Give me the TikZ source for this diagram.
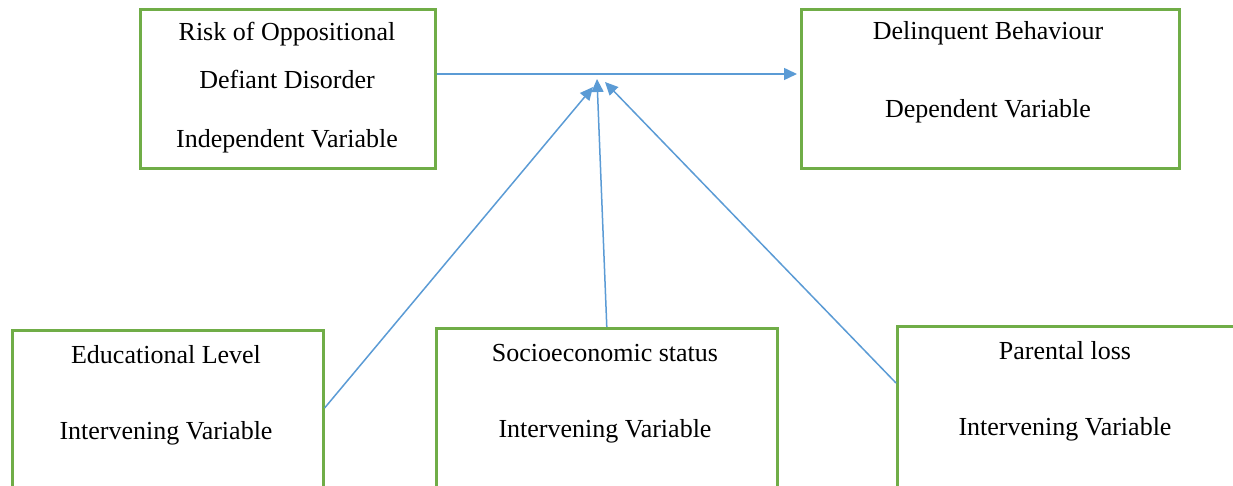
\documentclass[tikz,border=0pt]{standalone}
\usepackage{fontspec}
\setmainfont{Liberation Serif}
\usetikzlibrary{arrows.meta,calc}
\definecolor{boxgreen}{RGB}{112,173,71}
\definecolor{arrblue}{RGB}{91,155,213}
\tikzset{
  box/.style={draw=boxgreen, line width=1.3pt, rectangle, anchor=north west, inner sep=0pt},
  lbl/.style={inner sep=0pt, font=\fontsize{13}{15}\selectfont},
  arr/.style={draw=arrblue, line width=0.75pt, -{Triangle[length=6.5pt,width=6pt]}},
}
\begin{document}
\begin{tikzpicture}[x=0.5pt,y=-0.5pt]
\useasboundingbox (0,0) rectangle (1233,486);
\clip (0,0) rectangle (1233,486);
% boxes
\node[box, minimum width=147.5pt, minimum height=79.5pt] (A) at (139,8) {};
\node[box, minimum width=189pt, minimum height=79.5pt] (B) at (800,8) {};
\node[box, minimum width=155.5pt, minimum height=90pt] (C) at (11,329) {};
\node[box, minimum width=170.5pt, minimum height=90pt] (D) at (435,327) {};
\node[box, minimum width=175pt, minimum height=90pt] (E) at (896,325) {};
% texts
\node[lbl] (a1) at (287,34) {Risk of Oppositional};
\node[lbl] (a2) at (287,79) {Defiant Disorder};
\node[lbl] (a3) at (287,141) {Independent Variable};
\node[lbl] (b1) at (988,33) {Delinquent Behaviour};
\node[lbl] (b2) at (988,111) {Dependent Variable};
\node[lbl] (c1) at (166,355) {Educational Level};
\node[lbl] (c2) at (166,433) {Intervening Variable};
\node[lbl] (d1) at (605,353) {Socioeconomic status};
\node[lbl] (d2) at (605,431) {Intervening Variable};
\node[lbl] (e1) at (1065,351) {Parental loss};
\node[lbl] (e2) at (1065,429) {Intervening Variable};
% arrow targets
\coordinate (hB) at (797,74);
\coordinate (tC) at (593,87);
\coordinate (tD) at (597,79);
\coordinate (tE) at (605,82);
% connectors
\draw[arr] (A.east |- hB) -- (hB);
\draw[arr] ($(C.north east)+(0,79)$) -- (tC);
\draw[arr] (D.north) -- (tD);
\draw[arr] ($(E.north west)+(0,58)$) -- (tE);
\end{tikzpicture}
\end{document}
